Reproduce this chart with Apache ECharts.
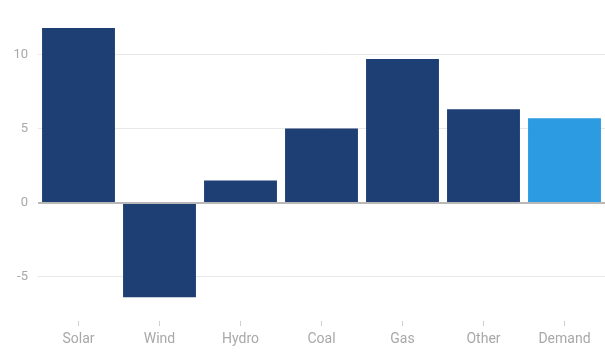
<!DOCTYPE html>
<html>
<head>
<meta charset="utf-8">
<script src="https://cdn.jsdelivr.net/npm/echarts@6/dist/echarts.min.js"></script>
<style>html,body{margin:0;padding:0;background:#fff;}#c{width:605px;height:354px;}</style>
</head>
<body>
<div id="c"></div>
<script>
const categories = ['Solar', 'Wind', 'Hydro', 'Coal', 'Gas', 'Other', 'Demand'];
const values = [11.8, -6.4, 1.5, 5.0, 9.7, 6.3, 5.7];
const highlighted = ['Demand'];
const yTicks = [-5, 0, 5, 10];

const chart = echarts.init(document.getElementById('c'), null, {renderer: 'canvas'});
chart.setOption({
  animation: false,
  grid: {left: 38, right: 0, top: 25, bottom: 33, containLabel: false},
  xAxis: {
    type: 'category',
    data: categories,
    axisLine: {show: false, onZero: false},
    axisTick: {show: true, alignWithLabel: true, length: 5, lineStyle: {color: '#cfcfcf'}},
    axisLabel: {color: '#a8a8a8', fontSize: 14, fontFamily: 'Roboto', margin: 11}
  },
  yAxis: {
    type: 'value',
    min: -8,
    max: 12,
    splitNumber: 4,
    axisLine: {show: false},
    axisTick: {show: false},
    axisLabel: {
      color: '#a8a8a8', fontSize: 13, fontFamily: 'Roboto', margin: 10,
      showMinLabel: false, showMaxLabel: false,
      formatter: v => yTicks.includes(v) ? String(v) : ''
    },
    splitLine: {show: true, showMinLine: false, showMaxLine: false, lineStyle: {color: '#e8e8e8', width: 1}}
  },
  series: [{
    type: 'bar',
    barCategoryGap: '10%',
    data: categories.map((c, i) => ({
      value: values[i],
      itemStyle: {color: highlighted.includes(c) ? '#2c9be1' : '#1e3f73'}
    })),
    markLine: {
      silent: true,
      symbol: 'none',
      label: {show: false},
      lineStyle: {color: '#b8b8b8', width: 2, type: 'solid'},
      data: [{yAxis: 0}]
    }
  }]
});
</script>
</body>
</html>
